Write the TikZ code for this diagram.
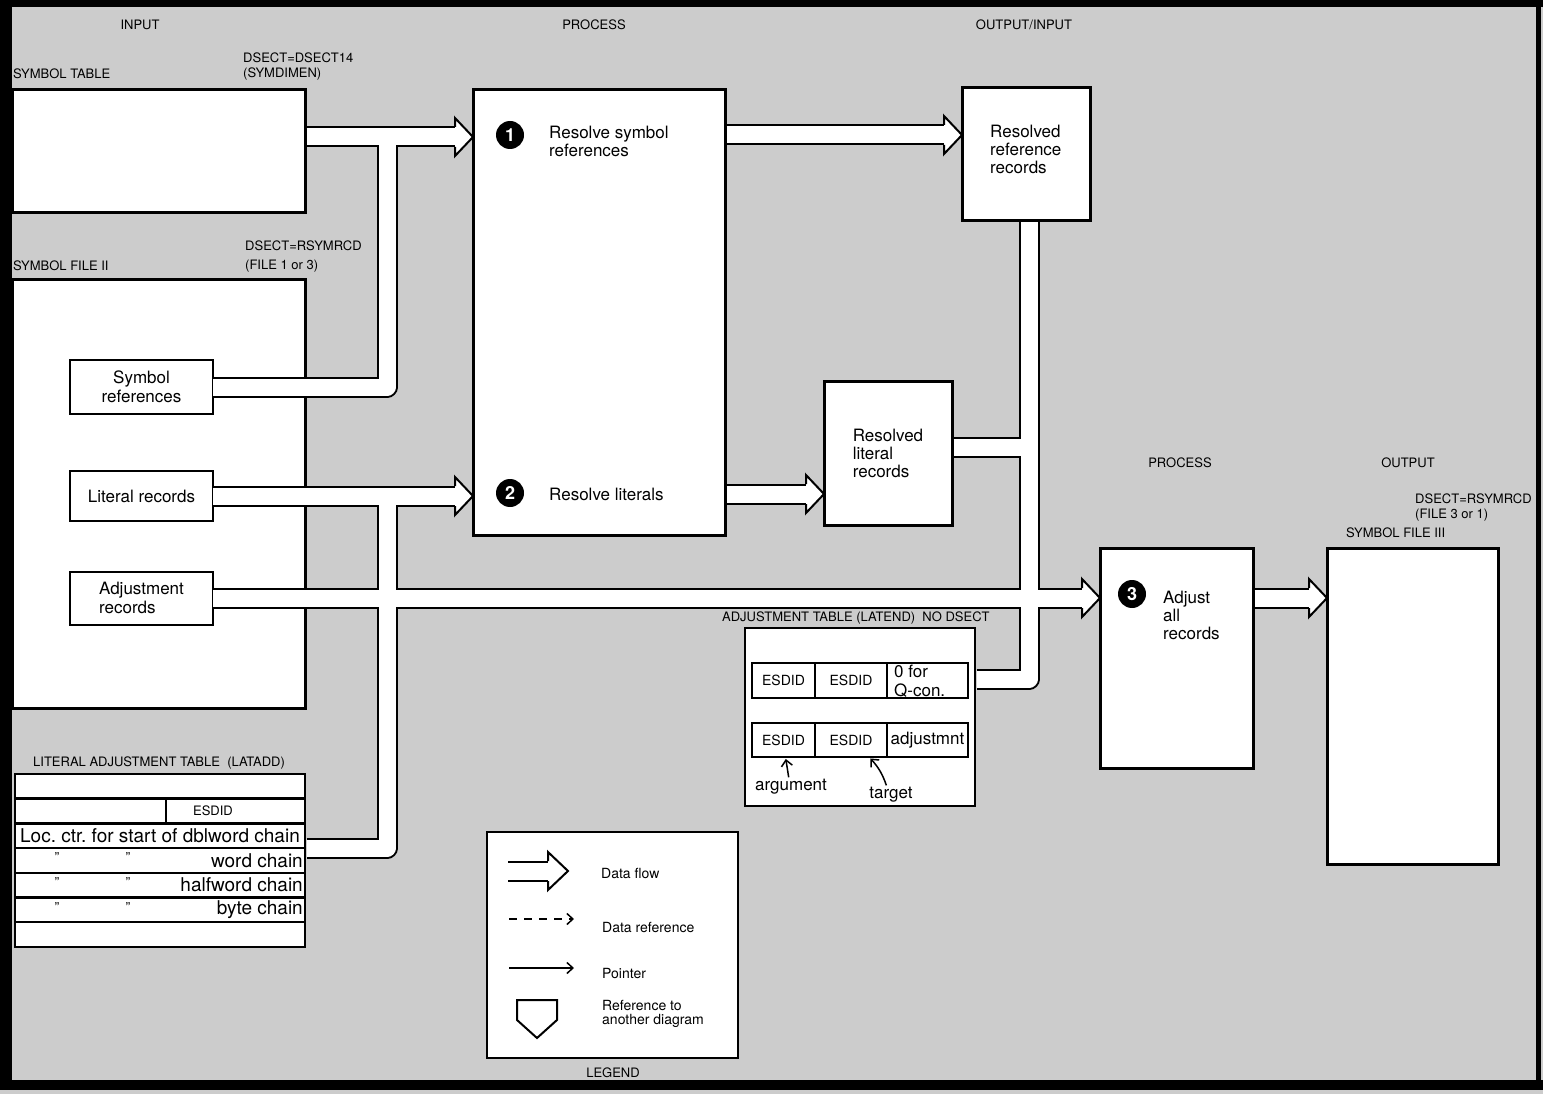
\documentclass[tikz,border=0pt]{standalone}
\usepackage{fontspec}
\setmainfont{TeX Gyre Heros}
\usetikzlibrary{positioning,arrows.meta}

\begin{document}
\begin{tikzpicture}[x=1pt, y=-1pt, >={Straight Barb[length=6pt,width=11pt]},
    bigbox/.style={draw, line width=3pt, fill=white, inner sep=0, outer sep=0},
    smallbox/.style={draw, line width=2pt, fill=white, inner sep=0, outer sep=0, align=center, font=\fontsize{17}{19}\selectfont},
    hdr/.style={font=\fontsize{13}{14}\selectfont, inner sep=0},
    lbl/.style={font=\fontsize{13}{14}\selectfont, inner sep=0, anchor=west},
    txt/.style={font=\fontsize{17}{18}\selectfont, inner sep=0, align=left},
    stepnum/.style={circle, fill=black, text=white, inner sep=0, minimum size=28pt, font=\fontsize{18}{18}\selectfont\bfseries},
    fout/.style={line width=21pt, line join=round},
    fin/.style={white, line width=17pt, line join=round, shorten >=-2pt},
    closed/.style={shorten <=1.5pt},
    fhead/.style={draw, fill=white, line width=2pt, line join=miter},
    tabrow/.style={draw, line width=2.5pt, fill=white, minimum width=290pt, minimum height=24.7pt, inner sep=0, outer sep=0, font=\fontsize{19}{19}\selectfont},
    tabcell/.style={draw, line width=2pt, fill=white, minimum height=35pt, inner sep=0, outer sep=0, font=\fontsize{14}{14}\selectfont},
    ditto/.style={font=\fontsize{14}{14}\selectfont, inner sep=0},
    ptr/.style={->, line width=1.5pt},
    leg/.style={font=\fontsize{14}{14}\selectfont, inner sep=0, align=left, anchor=west}]
\useasboundingbox (0,0) rectangle (1543,1094);
% Background and frame
\fill[black!20] (0,0) rectangle (1543,1094);
\fill (0,0) rectangle (1543,7);
\fill (0,0) rectangle (12,1090);
\fill (0,1080) rectangle (1543,1090);
\fill (1536,0) rectangle (1541,1090);
% Column headers
\node[hdr] (hin) at (140,25) {INPUT};
\node[hdr] (hproc) at (594,25) {PROCESS};
\node[hdr] (hoi) at (1024,25) {OUTPUT/INPUT};
\node[hdr] (hproc2) at (1180,463) {PROCESS};
\node[hdr] (hout) at (1408,463) {OUTPUT};
% Input side
\node[lbl] (dsect1) at (243,58) {DSECT=DSECT14};
\node[lbl] (symdim) at (243,74) {(SYMDIMEN)};
\node[lbl] (symtablbl) at (13,74) {SYMBOL TABLE};
\node[bigbox, minimum width=293pt, minimum height=123pt] (symtab) at (158.5,151.5) {};
\node[lbl] (dsect2) at (245,246) {DSECT=RSYMRCD};
\node[lbl] (file13) at (245,266) {(FILE 1 or 3)};
\node[lbl] (symf2lbl) at (13,266) {SYMBOL FILE II};
\node[bigbox, minimum width=293pt, minimum height=428pt] (symf2) at (158.5,494) {};
\node[smallbox, minimum width=143pt, minimum height=54pt] (symref) at (141.5,387) {Symbol\\references};
\node[smallbox, minimum width=143pt, minimum height=50pt] (litin) at (141.5,496) {Literal records};
\node[smallbox, minimum width=143pt, minimum height=53pt, align=left] (adjin) at (141.5,598) {Adjustment\\records};
% Literal adjustment table
\node[lbl] (lataddlbl) at (33,763) {LITERAL ADJUSTMENT TABLE\ \ (LATADD)};
\node[tabrow] (r1) at (160,786.35) {};
\node[tabrow, below=0pt of r1] (r2) {};
\node[tabrow, below=0pt of r2] (r3) {Loc.\ ctr.\ for start of dblword chain};
\node[tabrow, below=0pt of r3] (r4) {};
\node[tabrow, below=0pt of r4] (r5) {};
\node[tabrow, below=0pt of r5] (r6) {};
\node[tabrow, below=0pt of r6] (r7) {};
\draw[line width=2.5pt] ([xshift=6pt]r2.north) -- ([xshift=6pt]r2.south);
\node[font=\fontsize{13}{13}\selectfont, inner sep=0] (esdid0) at (213,811) {ESDID};
\node[font=\fontsize{19}{19}\selectfont, inner sep=0, anchor=east] (wchain) at ([xshift=-2pt]r4.east) {word chain};
\node[font=\fontsize{19}{19}\selectfont, inner sep=0, anchor=east] (hchain) at ([xshift=-2pt]r5.east) {halfword chain};
\node[font=\fontsize{19}{19}\selectfont, inner sep=0, anchor=east] (bchain) at ([xshift=-2pt]r6.east) {byte chain};
\node[ditto] (d4a) at (57,858) {"};
\node[ditto] (d4b) at (128,858) {"};
\node[ditto] (d5a) at (57,883) {"};
\node[ditto] (d5b) at (128,883) {"};
\node[ditto] (d6a) at (57,908) {"};
\node[ditto] (d6b) at (128,908) {"};
% Process 1 and 2
\node[bigbox, minimum width=252pt, minimum height=445pt] (proc) at (599,312.5) {};
\node[stepnum] (n1) at (510,135) {1};
\node[txt, anchor=north west] (rstxt) at (549,126) {Resolve symbol\\references};
\node[stepnum] (n2) at (510,493) {2};
\node[txt, anchor=west] (rltxt) at (549,494) {Resolve literals};
% Output/input
\node[bigbox, minimum width=128pt, minimum height=133pt] (refrec) at (1026,154.5) {};
\node[txt, anchor=north west] (rrtxt) at (990,125) {Resolved\\reference\\records};
\node[bigbox, minimum width=128pt, minimum height=144pt, align=left, font=\fontsize{17}{18}\selectfont] (litrec) at (888,453) {Resolved\\literal\\records};
% Adjustment table
\node[lbl] (latendlbl) at (722,618) {ADJUSTMENT TABLE (LATEND)\ \ NO DSECT};
\node[draw, line width=2pt, fill=white, minimum width=230pt, minimum height=178pt, inner sep=0, outer sep=0] (latend) at (860,717) {};
\node[tabcell, minimum width=63pt] (c11) at (783.5,680.5) {ESDID};
\node[tabcell, minimum width=72pt, right=0pt of c11] (c12) {ESDID};
\node[tabcell, minimum width=81pt, right=0pt of c12] (c13) {};
\node[tabcell, minimum width=63pt, minimum height=34pt] (c21) at (783.5,740) {ESDID};
\node[tabcell, minimum width=72pt, minimum height=34pt, right=0pt of c21] (c22) {ESDID};
\node[tabcell, minimum width=81pt, minimum height=34pt, right=0pt of c22, font=\fontsize{17}{17}\selectfont] (c23) {adjustmnt};
\node[txt, anchor=north west, font=\fontsize{17}{19}\selectfont] (qcon) at (894,665) {0 for\\Q-con.};
\node[txt] (arg) at (791,787) {argument};
\node[txt] (tgt) at (891,795) {target};
\draw[ptr, shorten <=2pt, shorten >=2pt] ([xshift=-2pt]arg.north) -- ([xshift=2pt]c21.south);
\draw[ptr, shorten <=2pt, shorten >=2pt] ([xshift=-4pt]tgt.north) to[bend right=12] ([xshift=18pt]c22.south);
% Process 3 and output
\node[bigbox, minimum width=153pt, minimum height=220pt] (proc3) at (1176.5,658) {};
\node[stepnum] (n3) at (1132,594) {3};
\node[txt, anchor=north west] (p3txt) at (1163,591) {Adjust\\all\\records};
\node[lbl] (dsect3) at (1415,499) {DSECT=RSYMRCD};
\node[lbl] (file31) at (1415,515) {(FILE 3 or 1)};
\node[lbl] (symf3lbl) at (1346,533) {SYMBOL FILE III};
\node[bigbox, minimum width=171pt, minimum height=316pt] (symf3) at (1412.5,706) {};
% Legend
\node[draw, line width=2pt, fill=white, minimum width=251pt, minimum height=226pt, inner sep=0, outer sep=0] (legend) at (612.5,945) {};
\node[hdr] (leglbl) at (613,1073) {LEGEND};
\coordinate (l0) at (508,871);
\coordinate (l1) at (568,871);
\node[leg] (lgflow) at (601,873) {Data flow};
\draw[->, line width=1.5pt, dash pattern=on 8pt off 7pt] (509,919) -- (574,919);
\node[leg] (lgref) at (602,927) {Data reference};
\draw[->, line width=1.5pt] (509,968) -- (574,968);
\node[leg] (lgptr) at (602,973) {Pointer};
\draw[line width=2pt, fill=white] (517,1000) -- (557,1000) -- (557,1020) -- (537,1038) -- (517,1020) -- cycle;
\node[leg, anchor=north west] (lgoff) at (602,1000) {Reference to\\another diagram};
% Arrow tips and channel joints
\coordinate (t1) at (proc.west |- 0,137);
\coordinate (t2) at (proc.west |- litin.east);
\coordinate (t3) at (refrec.west |- 0,135);
\coordinate (t4) at (litrec.west |- 0,494);
\coordinate (t5) at (proc3.west |- adjin.east);
\coordinate (t6) at (symf3.west |- t5);
\coordinate (ch0) at (387,137);
\coordinate (ch1) at (387,496);
\coordinate (ch2) at (1029,598);
\coordinate (ch3) at (1029,447);
\coordinate (ch4) at (1029,679);
% Data flow bands: outlines first, then the white insides
\foreach \pass in {fout,fin} {
  \draw[\pass, closed] (symtab.east |- t1) -- ([xshift=-18pt]t1);
  \draw[\pass] (symref.east) -| (ch0);
  \draw[\pass] (litin.east) -- ([xshift=-18pt]t2);
  \draw[\pass, closed] (r3.south east) -| (ch1);
  \draw[\pass] (adjin.east) -- ([xshift=-18pt]t5);
  \draw[\pass, closed] (proc.east |- t3) -- ([xshift=-18pt]t3);
  \draw[\pass, closed] (proc.east |- t4) -- ([xshift=-18pt]t4);
  \draw[\pass, closed] (ch2 |- refrec.south) -- (ch2);
  \draw[\pass, closed] (litrec.east |- ch3) -- (ch3);
  \draw[\pass, closed] (latend.east |- ch4) -| (ch2);
  \draw[\pass, closed] (proc3.east |- t6) -- ([xshift=-18pt]t6);
  \draw[\pass] (l0) -- ([xshift=-20pt]l1);
}
% Hollow heads
\draw[fhead] ([xshift=-18pt]t1) ++(0,-10) -- ++(0,-9) -- (t1) -- ++(-18,19) -- ++(0,-9);
\draw[fhead] ([xshift=-18pt]t2) ++(0,-10) -- ++(0,-9) -- (t2) -- ++(-18,19) -- ++(0,-9);
\draw[fhead] ([xshift=-18pt]t3) ++(0,-10) -- ++(0,-9) -- (t3) -- ++(-18,19) -- ++(0,-9);
\draw[fhead] ([xshift=-18pt]t4) ++(0,-10) -- ++(0,-9) -- (t4) -- ++(-18,19) -- ++(0,-9);
\draw[fhead] ([xshift=-18pt]t5) ++(0,-10) -- ++(0,-9) -- (t5) -- ++(-18,19) -- ++(0,-9);
\draw[fhead] ([xshift=-18pt]t6) ++(0,-10) -- ++(0,-9) -- (t6) -- ++(-18,19) -- ++(0,-9);
\draw[fhead] ([xshift=-20pt]l1) ++(0,-10) -- ++(0,-9) -- (l1) -- ++(-20,19) -- ++(0,-9);
\end{tikzpicture}
\end{document}
